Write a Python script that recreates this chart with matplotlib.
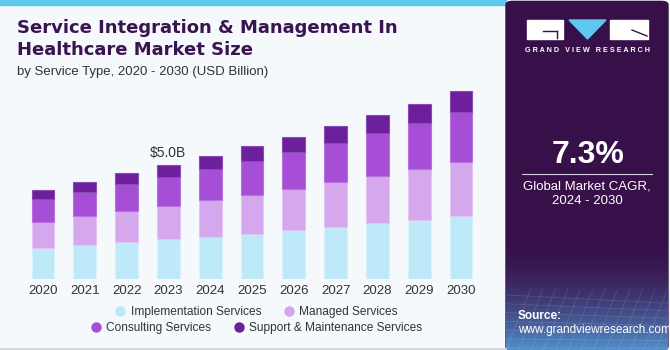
import numpy as np
import matplotlib.pyplot as plt
from matplotlib.patches import Rectangle, FancyBboxPatch, Polygon
from matplotlib.lines import Line2D

# values (USD billion)
years = ['2020', '2021', '2022', '2023', '2024', '2025', '2026', '2027', '2028', '2029', '2030']
implementation = [1.36, 1.48, 1.61, 1.73, 1.84, 1.97, 2.12, 2.27, 2.43, 2.59, 2.75]
managed = [1.13, 1.25, 1.35, 1.46, 1.59, 1.70, 1.80, 1.95, 2.06, 2.19, 2.37]
consulting = [0.99, 1.07, 1.18, 1.26, 1.36, 1.47, 1.61, 1.71, 1.86, 2.01, 2.14]
support = [0.39, 0.44, 0.48, 0.54, 0.58, 0.64, 0.68, 0.74, 0.81, 0.86, 0.95]

series_names = ['Implementation Services', 'Managed Services',
                'Consulting Services', 'Support & Maintenance Services']
colors = ['#bee9f9', '#d5a7ed', '#a64fd6', '#6d1f9c']
edge_colors = ['#d8f2fc', '#e3c4f3', '#b873e0', '#8a4bb5']

W, H = 670, 350
def fx(px):
    return px / W
def fy(py):
    return 1 - py / H

plt.rcParams['font.family'] = ['Liberation Sans', 'DejaVu Sans']

fig = plt.figure(figsize=(6.7, 3.5), dpi=100)
fig.patch.set_facecolor('#f5f9fc')

# top blue strip and bottom line
fig.patches.append(Rectangle((0, fy(5)), fx(506), 5 / H, transform=fig.transFigure,
                             color='#5ec8f0', zorder=-2))
fig.add_artist(Line2D([0, fx(506)], [fy(348.5), fy(348.5)], transform=fig.transFigure,
                      color='#cfd3d8', lw=1.2))

# right panel
fig.patches.append(FancyBboxPatch((fx(506), 0), fx(164) - 0.003, 1 - 0.004,
                                  boxstyle='round,pad=0,rounding_size=0.01',
                                  transform=fig.transFigure, color='#37104a', zorder=-2))
gax = fig.add_axes([fx(506), 0, fx(164) - 0.003, 110 / H])
gax.set_zorder(-1)
grad = np.zeros((100, 10, 4))
t = np.linspace(0, 1, 100)[:, None]
grad[..., 0] = 0.33
grad[..., 1] = 0.62
grad[..., 2] = 0.86
grad[..., 3] = (t ** 1.8) * 0.9
gax.imshow(grad, aspect='auto', extent=[0, 1, 0, 1], origin='upper')
# faint grid pattern of the background
for k in np.linspace(0.0, 1.0, 14):
    gax.plot([k, k + 0.15], [0, 0.55], color='white', alpha=0.12, lw=0.6)
for k in np.linspace(0.02, 0.5, 7):
    gax.plot([0, 1], [k, k * 0.85], color='white', alpha=0.12, lw=0.6)
gax.set_xlim(0, 1)
gax.set_ylim(0, 1)
gax.axis('off')

# logo
fig.patches.append(Rectangle((fx(527), fy(39)), fx(36), 19 / H, transform=fig.transFigure,
                             color='white'))
fig.patches.append(Polygon([[fx(569), fy(20)], [fx(606), fy(20)], [fx(587.5), fy(39)]],
                           closed=True, transform=fig.transFigure, color='#5ec8f0'))
fig.patches.append(Rectangle((fx(610), fy(39)), fx(38), 19 / H, transform=fig.transFigure,
                             color='white'))
fig.add_artist(Line2D([fx(543), fx(557)], [fy(31), fy(31)], transform=fig.transFigure,
                      color='#37104a', lw=1))
fig.add_artist(Line2D([fx(557), fx(557)], [fy(31), fy(38)], transform=fig.transFigure,
                      color='#37104a', lw=1))
fig.add_artist(Line2D([fx(632), fx(647)], [fy(30), fy(36)], transform=fig.transFigure,
                      color='#37104a', lw=1))
fig.text(fx(587.5), fy(51), 'G R A N D   V I E W   R E S E A R C H', color='white',
         fontsize=5.2, fontweight='bold', ha='center', va='center')

fig.text(fx(588), fy(155), '7.3%', color='white', fontsize=23, fontweight='bold',
         ha='center', va='center')
fig.add_artist(Line2D([fx(522), fx(652)], [fy(173.5), fy(173.5)], transform=fig.transFigure,
                      color='#d8d0e0', lw=0.8))
fig.text(fx(587), fy(186), 'Global Market CAGR,', color='white', fontsize=9.5,
         ha='center', va='center')
fig.text(fx(587), fy(201), '2024 - 2030', color='white', fontsize=9.5,
         ha='center', va='center')
fig.text(fx(518), fy(316), 'Source:', color='white', fontsize=8.5, fontweight='bold',
         ha='left', va='center')
fig.text(fx(518), fy(330), 'www.grandviewresearch.com', color='white', fontsize=8.5,
         ha='left', va='center')

# titles
fig.text(fx(17), fy(28), 'Service Integration & Management In', color='#3a1450',
         fontsize=13, fontweight='bold', ha='left', va='center', family='DejaVu Sans')
fig.text(fx(17), fy(50), 'Healthcare Market Size', color='#3a1450',
         fontsize=13, fontweight='bold', ha='left', va='center', family='DejaVu Sans')
fig.text(fx(17), fy(72), 'by Service Type, 2020 - 2030 (USD Billion)', color='#333333',
         fontsize=9.5, ha='left', va='center')

# bars
px_per_b = 22.94
ax = fig.add_axes([0, fy(279), fx(506), (279 - 90) / H])
ax.set_facecolor('none')
x = np.arange(len(years))
bottom = np.zeros(len(years))
for vals, name, c, ec in zip([implementation, managed, consulting, support],
                             series_names, colors, edge_colors):
    ax.bar(x, vals, width=0.55, bottom=bottom, color=c, edgecolor=ec,
           linewidth=0.8, label=name)
    bottom = bottom + np.array(vals)

ax.text(3, bottom[3] + 0.2, '$5.0B', ha='center', va='bottom', fontsize=10,
        color='#333333')

ax.set_xlim((0 - 43) / 41.8, (506 - 43) / 41.8)
ax.set_ylim(0, 189 / px_per_b)
ax.set_xticks(x)
ax.set_xticklabels(years, fontsize=9.5, color='#333333')
ax.tick_params(axis='x', length=0, pad=4)
ax.set_yticks([])
for s in ax.spines.values():
    s.set_visible(False)

# legend, two centered rows with round markers
dots = [Line2D([], [], marker='o', ls='', markersize=6.5, color=c) for c in colors]
leg_kw = dict(ncol=2, loc='center', frameon=False, fontsize=8.6, handlelength=0.7,
              columnspacing=2.0, handletextpad=0.5, labelcolor='#333333')
fig.legend(dots[:2], series_names[:2], bbox_to_anchor=(fx(257), fy(312)), **leg_kw)
fig.legend(dots[2:], series_names[2:], bbox_to_anchor=(fx(257), fy(328)), **leg_kw)

fig.savefig('out.png', dpi=100, facecolor=fig.get_facecolor())
